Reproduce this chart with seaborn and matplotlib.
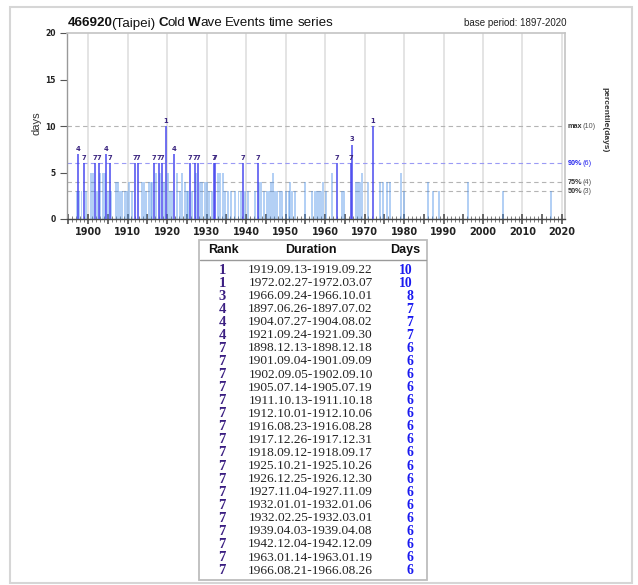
import matplotlib
matplotlib.use("Agg")
import matplotlib.pyplot as plt
from matplotlib.patches import Rectangle
from matplotlib.lines import Line2D
from matplotlib.ticker import MultipleLocator, FuncFormatter
import seaborn as sns
from datetime import date

# ---- top-ranked cold wave events ----
rank_order = [1, 1, 3, 4, 4, 4, 7, 7, 7, 7, 7, 7, 7, 7, 7, 7, 7, 7, 7, 7, 7, 7, 7, 7]
durations = [
    "1919.09.13-1919.09.22", "1972.02.27-1972.03.07", "1966.09.24-1966.10.01",
    "1897.06.26-1897.07.02", "1904.07.27-1904.08.02", "1921.09.24-1921.09.30",
    "1898.12.13-1898.12.18", "1901.09.04-1901.09.09", "1902.09.05-1902.09.10",
    "1905.07.14-1905.07.19", "1911.10.13-1911.10.18", "1912.10.01-1912.10.06",
    "1916.08.23-1916.08.28", "1917.12.26-1917.12.31", "1918.09.12-1918.09.17",
    "1925.10.21-1925.10.26", "1926.12.25-1926.12.30", "1927.11.04-1927.11.09",
    "1932.01.01-1932.01.06", "1932.02.25-1932.03.01", "1939.04.03-1939.04.08",
    "1942.12.04-1942.12.09", "1963.01.14-1963.01.19", "1966.08.21-1966.08.26",
]
event_days = [10, 10, 8, 7, 7, 7, 6, 6, 6, 6, 6, 6, 6, 6, 6, 6, 6, 6, 6, 6, 6, 6, 6, 6]

# ---- remaining events (decimal year, length in days) ----
other_years = [
    1897.15, 1897.75, 1898.35, 1899.55, 1900.75, 1901.25, 1902.2, 1903.15, 1903.75, 1904.2,
    1905.05, 1905.85, 1907.05, 1907.6, 1908.2, 1908.7, 1909.3, 1909.8, 1910.5, 1911.2,
    1913.6, 1914.1, 1914.8, 1915.4, 1915.9, 1916.25, 1917.2, 1918.3, 1919.15, 1920.25,
    1920.75, 1921.2, 1922.5, 1923.2, 1923.9, 1924.5, 1924.95, 1925.25, 1926.3, 1927.3,
    1928.3, 1928.9, 1929.5, 1930.2, 1930.7, 1931.3, 1932.9, 1933.5, 1934.2, 1934.8,
    1935.5, 1936.3, 1937.2, 1938.1, 1938.7, 1939.8, 1940.5, 1942.2,
    1943.4, 1943.9, 1944.5, 1945.2, 1945.8, 1946.4, 1946.9, 1947.3, 1947.9, 1948.5,
    1949.2, 1950.1, 1950.8, 1951.1, 1951.6, 1952.4, 1954.9, 1956.7, 1957.4, 1957.9,
    1958.4, 1958.9, 1959.6, 1960.3, 1961.8, 1964.2, 1964.9,
    1967.8, 1968.3, 1968.8, 1969.4, 1970.9, 1973.9, 1974.6, 1975.8, 1976.4, 1979.3,
    1980.1, 1986.0, 1987.3, 1988.8, 1996.2, 2005.0, 2017.2,
]
other_days = [
    3, 3, 3, 3, 5, 5, 3, 5, 5, 5,
    3, 3, 4, 4, 3, 3, 3, 3, 4, 3,
    4, 4, 3, 4, 4, 4, 5, 5, 4, 5,
    3, 3, 5, 3, 5, 4, 3, 3, 3, 5,
    4, 4, 4, 4, 3, 3, 5, 5, 5, 3,
    3, 3, 3, 3, 3, 3, 3, 3,
    4, 4, 3, 3, 3, 4, 5, 3, 3, 3,
    3, 3, 3, 4, 3, 3, 4, 3, 3, 3,
    3, 3, 4, 3, 5, 3, 3,
    4, 4, 4, 5, 4, 4, 4, 4, 4, 5,
    3, 4, 3, 3, 4, 3, 3,
]

# ---- percentile reference levels ----
pct_names = ["max", "90%", "75%", "50%"]
pct_values = [10, 6, 4, 3]
pct_colors = ["#333333", "#2222ee", "#333333", "#333333"]
pct_line_colors = ["#b4b4b4", "#9a9af5", "#b4b4b4", "#b4b4b4"]

decade_ticks = list(range(1900, 2021, 10))

W, H = 638, 585
sns.set_theme(style="white")
plt.rcParams["font.family"] = ["Liberation Sans", "DejaVu Sans"]

fig = plt.figure(figsize=(W / 100, H / 100), dpi=100)
fig.patch.set_facecolor("white")


def fx(x):
    return x / W


def fy(y):
    return 1 - y / H


def start_decimal(span):
    y, m, d = (int(p) for p in span.split("-")[0].split("."))
    doy = date(y, m, d).timetuple().tm_yday
    return y + (doy - 0.5) / 365.25


rank_years = [start_decimal(s) for s in durations]

ax = fig.add_axes([fx(67), fy(219), fx(565 - 67), (219 - 33) / H])
ax.set_xlim(1894.68, 2020.76)
ax.set_ylim(0, 20)

for yr in decade_ticks:
    ax.axvline(yr, color="#e2e2e2", lw=1.3, zorder=0)

for v, lc in zip(pct_values, pct_line_colors):
    ax.axhline(v, color=lc, lw=0.8, ls=(0, (4, 3)), zorder=1)

ax.bar(other_years, other_days, width=0.5, color="#4a90e8", alpha=0.42,
       linewidth=0, zorder=2)
ax.bar(rank_years, event_days, width=0.5, color="#4646ee", alpha=0.75,
       linewidth=0, zorder=3)

for yr, dd, rk in zip(rank_years, event_days, rank_order):
    ax.text(yr, dd + 0.25, str(rk), ha="center", va="bottom", fontsize=4.9,
            fontweight="bold", color="#3b2580", family="DejaVu Sans", zorder=4)

# axes frame
for side in ("top", "right"):
    ax.spines[side].set_color("#c4c4c4")
    ax.spines[side].set_linewidth(1.2)
ax.spines["left"].set_color("#999999")
ax.spines["left"].set_linewidth(1.0)
ax.spines["bottom"].set_color("#444444")
ax.spines["bottom"].set_linewidth(1.0)

ax.yaxis.set_major_locator(MultipleLocator(5))
ax.tick_params(axis="y", which="major", direction="out", length=5, width=0.8,
               color="#555555", labelsize=5.5, pad=3, labelcolor="#222222",
               left=True)
for lab in ax.get_yticklabels():
    lab.set_fontweight("bold")
    lab.set_family("DejaVu Sans")

ax.xaxis.set_major_locator(MultipleLocator(5))
ax.xaxis.set_minor_locator(MultipleLocator(1))
ax.xaxis.set_major_formatter(FuncFormatter(
    lambda v, p: f"{int(round(v))}" if int(round(v)) in decade_ticks else ""))
ax.tick_params(axis="x", which="major", direction="inout", length=7, width=1.1,
               color="#444444", labelsize=7, pad=2, labelcolor="#222222",
               bottom=True)
ax.tick_params(axis="x", which="minor", direction="inout", length=4, width=0.6,
               color="#666666", bottom=True)
for lab in ax.get_xticklabels():
    lab.set_fontweight("bold")
    lab.set_family("DejaVu Sans")

ax.set_ylabel("")
ax.set_xlabel("")
fig.text(fx(36), fy(123), "days", rotation=90, ha="center", va="center",
         fontsize=8, color="#333333")
fig.text(fx(605), fy(120), "percentile(days)", rotation=-90, ha="center",
         va="center", fontsize=6, fontweight="bold", color="#333333")

renderer = fig.canvas.get_renderer()


def run_text(x_px, y_px, pieces, size):
    """Place consecutive text pieces on one baseline; gap is in pixels."""
    x = x_px
    for s, weight, col, gap in pieces:
        t = fig.text(fx(x), fy(y_px), s, fontsize=size, fontweight=weight,
                     color=col, ha="left", va="baseline")
        bb = t.get_window_extent(renderer)
        x = bb.x1 + gap
    return x


# title
run_text(68, 26.5, [
    ("466920", "bold", "#111111", -1.5),
    ("(Taipei)", "normal", "#111111", 3.2),
    ("C", "bold", "#111111", -1.0),
    ("old", "normal", "#111111", 3.2),
    ("W", "bold", "#111111", -1.0),
    ("ave", "normal", "#111111", 3.2),
    ("Events", "normal", "#111111", 3.2),
    ("time", "normal", "#111111", 3.2),
    ("series", "normal", "#111111", 0),
], 9.6)
fig.text(fx(566), fy(26.5), "base period: 1897-2020", ha="right",
         va="baseline", fontsize=7, color="#222222")

# percentile labels on the right
for name, v, col in zip(pct_names, pct_values, pct_colors):
    ypix = ax.transData.transform((2000, v))[1]
    y_from_top = H - ypix + 2
    run_text(568, y_from_top, [
        (name, "bold", col, -0.4),
        (f"({v})", "normal", col if col != "#333333" else "#555555", 0),
    ], 5.2)

# ranking table
fig.patches.append(Rectangle((fx(199), fy(580)), fx(427 - 199), (580 - 240) / H,
                             transform=fig.transFigure, facecolor="white",
                             edgecolor="#bdbdbd", lw=1.3, zorder=0))
fig.lines.append(Line2D([fx(200), fx(426)], [fy(260), fy(260)],
                        transform=fig.transFigure, color="#9a9a9a", lw=1.0))
for label, xc in (("Rank", 223), ("Duration", 311), ("Days", 405)):
    fig.text(fx(xc), fy(250), label, ha="center", va="center", fontsize=9,
             fontweight="bold", color="#111111")

row_y0, row_step = 270.0, 13.07
for i, (rk, span, dd) in enumerate(zip(rank_order, durations, event_days)):
    yy = row_y0 + i * row_step
    fig.text(fx(222), fy(yy), str(rk), ha="center", va="center", fontsize=10.5,
             fontweight="bold", color="#3b1f82", family="Liberation Serif")
    fig.text(fx(310.5), fy(yy), span, ha="center", va="center", fontsize=9.6,
             color="#222222", family="Liberation Serif")
    fig.text(fx(413), fy(yy), str(dd), ha="right", va="center", fontsize=9.8,
             fontweight="bold", color="#1a1af0", family="Liberation Serif")

# outer frame
fig.patches.append(Rectangle((fx(10), fy(583)), fx(632 - 10), (583 - 7) / H,
                             transform=fig.transFigure, facecolor="none",
                             edgecolor="#d6d6d6", lw=1.5, zorder=0))

fig.savefig("out.png", dpi=100, facecolor="white")
